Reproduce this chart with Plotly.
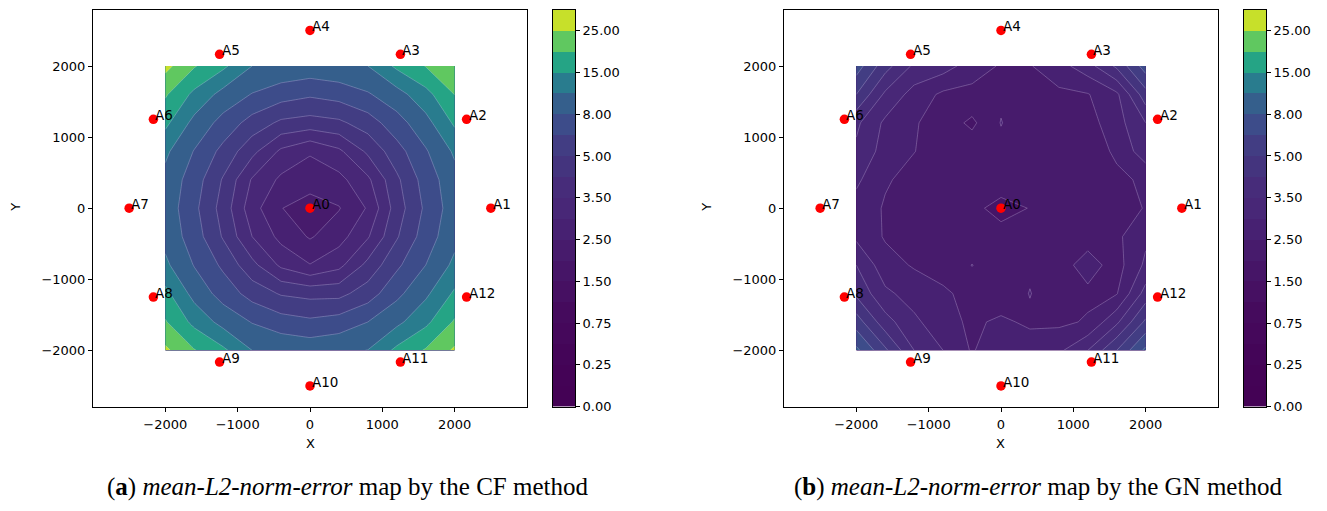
import numpy as np
import plotly.graph_objects as go
from plotly.colors import sample_colorscale

# ---------------- data ----------------
levels = [0, 0.1, 0.25, 0.5, 0.75, 1, 1.5, 2, 2.5, 3, 3.5, 4, 5, 6, 8, 10, 15, 20, 25, 30]
cbar_tick_labels = ["0.00", "0.25", "0.75", "1.50", "2.50", "3.50", "5.00", "8.00", "15.00", "25.00"]

grid_x = [-2000, -1600, -1200, -800, -400, 0, 400, 800, 1200, 1600, 2000]
grid_y = [2000, 1600, 1200, 800, 400, 0, -400, -800, -1200, -1600, -2000]

cf_err = [
    [26.5, 20.4, 16.0, 10.0, 9.6, 9.3, 9.6, 10.0, 16.0, 20.2, 24.0],
    [20.6, 13.8, 9.3, 7.9, 6.9, 6.3, 6.8, 7.8, 9.2, 13.3, 20.1],
    [16.2, 9.4, 7.3, 5.6, 4.8, 4.6, 4.8, 5.5, 7.2, 9.3, 15.8],
    [11.0, 7.9, 5.7, 4.3, 3.4, 3.04, 3.4, 4.2, 5.6, 7.8, 10.8],
    [9.4, 7.0, 4.9, 3.45, 2.9, 2.8, 2.85, 3.4, 4.8, 6.9, 9.3],
    [9.2, 6.5, 4.6, 3.2, 2.52, 2.2, 2.47, 3.05, 4.5, 6.4, 9.1],
    [9.4, 7.0, 4.9, 3.5, 2.85, 2.45, 2.8, 3.45, 4.9, 7.0, 9.4],
    [11.0, 7.9, 5.8, 4.3, 3.4, 3.02, 3.35, 4.3, 5.8, 8.0, 11.2],
    [16.4, 9.3, 7.2, 5.6, 4.9, 4.7, 4.7, 5.5, 7.5, 9.6, 15.8],
    [20.4, 13.6, 9.3, 7.9, 6.9, 6.4, 6.9, 8.0, 9.5, 13.8, 20.6],
    [26.0, 20.3, 16.0, 10.0, 9.6, 9.3, 9.6, 10.1, 16.2, 20.5, 25.8],
]

gn_err = [
    [7.0, 4.4, 3.4, 3.23, 2.75, 2.45, 2.47, 2.8, 3.3, 4.2, 7.0],
    [5.0, 3.4, 2.8, 2.4, 2.35, 2.4, 2.42, 2.4, 2.47, 2.9, 4.6],
    [3.6, 2.9, 2.55, 2.25, 1.9, 2.52, 2.15, 2.2, 2.3, 2.8, 3.5],
    [3.4, 2.8, 2.51, 2.3, 2.3, 2.35, 2.25, 2.2, 2.25, 2.58, 3.3],
    [3.1, 2.55, 2.35, 2.3, 2.25, 2.33, 2.3, 2.25, 2.3, 2.4, 2.58],
    [2.8, 2.45, 2.3, 2.25, 2.15, 1.8, 2.02, 2.2, 2.25, 2.35, 2.52],
    [2.9, 2.45, 2.35, 2.25, 2.2, 2.22, 2.2, 2.25, 2.3, 2.4, 2.9],
    [3.5, 2.7, 2.45, 2.25, 2.51, 2.25, 2.4, 2.3, 2.7, 2.3, 3.1],
    [3.9, 3.1, 2.8, 2.6, 2.3, 2.15, 2.52, 2.15, 2.4, 2.47, 3.7],
    [5.5, 3.7, 3.1, 2.7, 2.4, 2.6, 2.4, 2.4, 2.55, 3.4, 5.2],
    [8.5, 5.2, 3.5, 3.0, 2.45, 2.9, 2.8, 2.9, 3.5, 5.0, 8.5],
]

anchor_names = ["A0", "A1", "A2", "A3", "A4", "A5", "A6", "A7", "A8", "A9", "A10", "A11", "A12"]
anchor_x = [0, 2500, 2165, 1250, 0, -1250, -2165, -2500, -2165, -1250, 0, 1250, 2165]
anchor_y = [0, 0, 1250, 2165, 2500, 2165, 1250, 0, -1250, -2165, -2500, -2165, -1250]

captions = [
    "(<b>a</b>) <i>mean-L2-norm-error</i> map by the CF method",
    "(<b>b</b>) <i>mean-L2-norm-error</i> map by the GN method",
]

# ---------------- styling helpers ----------------
W, H = 1327, 511
nb = len(levels) - 1  # number of filled bands
lv = np.array(levels, dtype=float)
mids = (lv[:-1] + lv[1:]) / 2.0
band_colors = sample_colorscale("Viridis", list((mids - lv[0]) / (lv[-1] - lv[0])))
band_scale = [[k / (nb - 1), c] for k, c in enumerate(band_colors)]


def to_index(z):
    return np.interp(np.array(z, dtype=float), lv, np.arange(len(lv)))


def px(xp):
    return xp / W


def py(yp):
    return 1 - yp / H


TICKFONT = dict(family="DejaVu Sans", size=13, color="black")
AX_LINE = dict(showline=True, linecolor="black", linewidth=1, mirror=True)

fig = go.Figure()

panels = [
    dict(z=cf_err, xd=[px(93), px(527)], cb=[px(553), px(575)], cap_x=px(347)),
    dict(z=gn_err, xd=[px(784), px(1218)], cb=[px(1244), px(1266)], cap_x=px(1038)),
]
ydom = [py(413), py(10)]

for i, p in enumerate(panels):
    n = 2 * i + 1
    xa = "x" if n == 1 else f"x{n}"
    ya = "y" if n == 1 else f"y{n}"
    xcb = f"x{n+1}"
    ycb = f"y{n+1}"

    fig.add_trace(go.Contour(
        x=grid_x, y=grid_y, z=to_index(p["z"]),
        autocontour=False,
        contours=dict(start=1, end=nb - 1, size=1, coloring="fill", showlines=True),
        line=dict(color="rgba(235,225,255,0.45)", width=0.6, smoothing=0),
        colorscale=band_scale, showscale=False, hoverinfo="skip",
        xaxis=xa, yaxis=ya,
    ))
    fig.add_trace(go.Scatter(
        x=anchor_x, y=anchor_y, mode="markers",
        marker=dict(color="#ff0000", size=9.5, line=dict(width=0)),
        xaxis=xa, yaxis=ya, showlegend=False, hoverinfo="skip",
    ))
    for nm, ax_, ay_ in zip(anchor_names, anchor_x, anchor_y):
        fig.add_annotation(x=ax_, y=ay_, xref=xa, yref=ya, text=nm, showarrow=False,
                           xanchor="left", yanchor="bottom", xshift=0, yshift=-6,
                           font=dict(family="DejaVu Sans", size=13.5, color="black"))

    # colorbar drawn as a heatmap strip
    fig.add_trace(go.Heatmap(
        z=[[k] for k in range(nb)], x=[0], y=[k + 0.5 for k in range(nb)],
        colorscale=band_scale, zmin=0, zmax=nb - 1, showscale=False,
        xaxis=xcb, yaxis=ycb, hoverinfo="skip",
    ))

    lay = {}
    lay["xaxis" if n == 1 else f"xaxis{n}"] = dict(
        domain=p["xd"], anchor=ya, range=[-3000, 3000], tickvals=[-2000, -1000, 0, 1000, 2000],
        ticks="outside", ticklen=4, tickwidth=1, tickcolor="black", tickfont=TICKFONT,
        ticklabelstandoff=2, showgrid=False, zeroline=False, **AX_LINE)
    lay["yaxis" if n == 1 else f"yaxis{n}"] = dict(
        domain=ydom, anchor=xa, range=[-2790, 2790], tickvals=[-2000, -1000, 0, 1000, 2000],
        ticks="outside", ticklen=4, tickwidth=1, tickcolor="black", tickfont=TICKFONT,
        showgrid=False, zeroline=False, **AX_LINE)
    lay[f"xaxis{n+1}"] = dict(domain=p["cb"], anchor=ycb, range=[-0.5, 0.5], showticklabels=False,
                              ticks="", showgrid=False, zeroline=False, **AX_LINE)
    lay[f"yaxis{n+1}"] = dict(domain=ydom, anchor=xcb, side="right", range=[0, nb],
                              tickvals=list(range(0, nb, 2)), ticktext=cbar_tick_labels,
                              ticks="outside", ticklen=4, tickwidth=1, tickcolor="black",
                              tickfont=TICKFONT, showgrid=False, zeroline=False, **AX_LINE)
    fig.update_layout(**lay)

    # axis titles
    xc = (p["xd"][0] + p["xd"][1]) / 2
    fig.add_annotation(x=xc, y=py(451), xref="paper", yref="paper", text="X", showarrow=False,
                       xanchor="center", yanchor="middle",
                       font=dict(family="DejaVu Sans", size=13, color="black"))
    fig.add_annotation(x=p["xd"][0] - px(77), y=py(211), xref="paper", yref="paper", text="Y",
                       showarrow=False, textangle=-90, xanchor="center", yanchor="middle",
                       font=dict(family="DejaVu Sans", size=13, color="black"))
    # caption
    fig.add_annotation(x=p["cap_x"], y=py(495), xref="paper", yref="paper", text=captions[i],
                       showarrow=False, xanchor="center", yanchor="middle",
                       font=dict(family="Liberation Serif", size=25, color="black"))

fig.update_layout(width=W, height=H, margin=dict(l=0, r=0, t=0, b=0),
                  paper_bgcolor="white", plot_bgcolor="white", showlegend=False)

fig.write_html("out.html")
